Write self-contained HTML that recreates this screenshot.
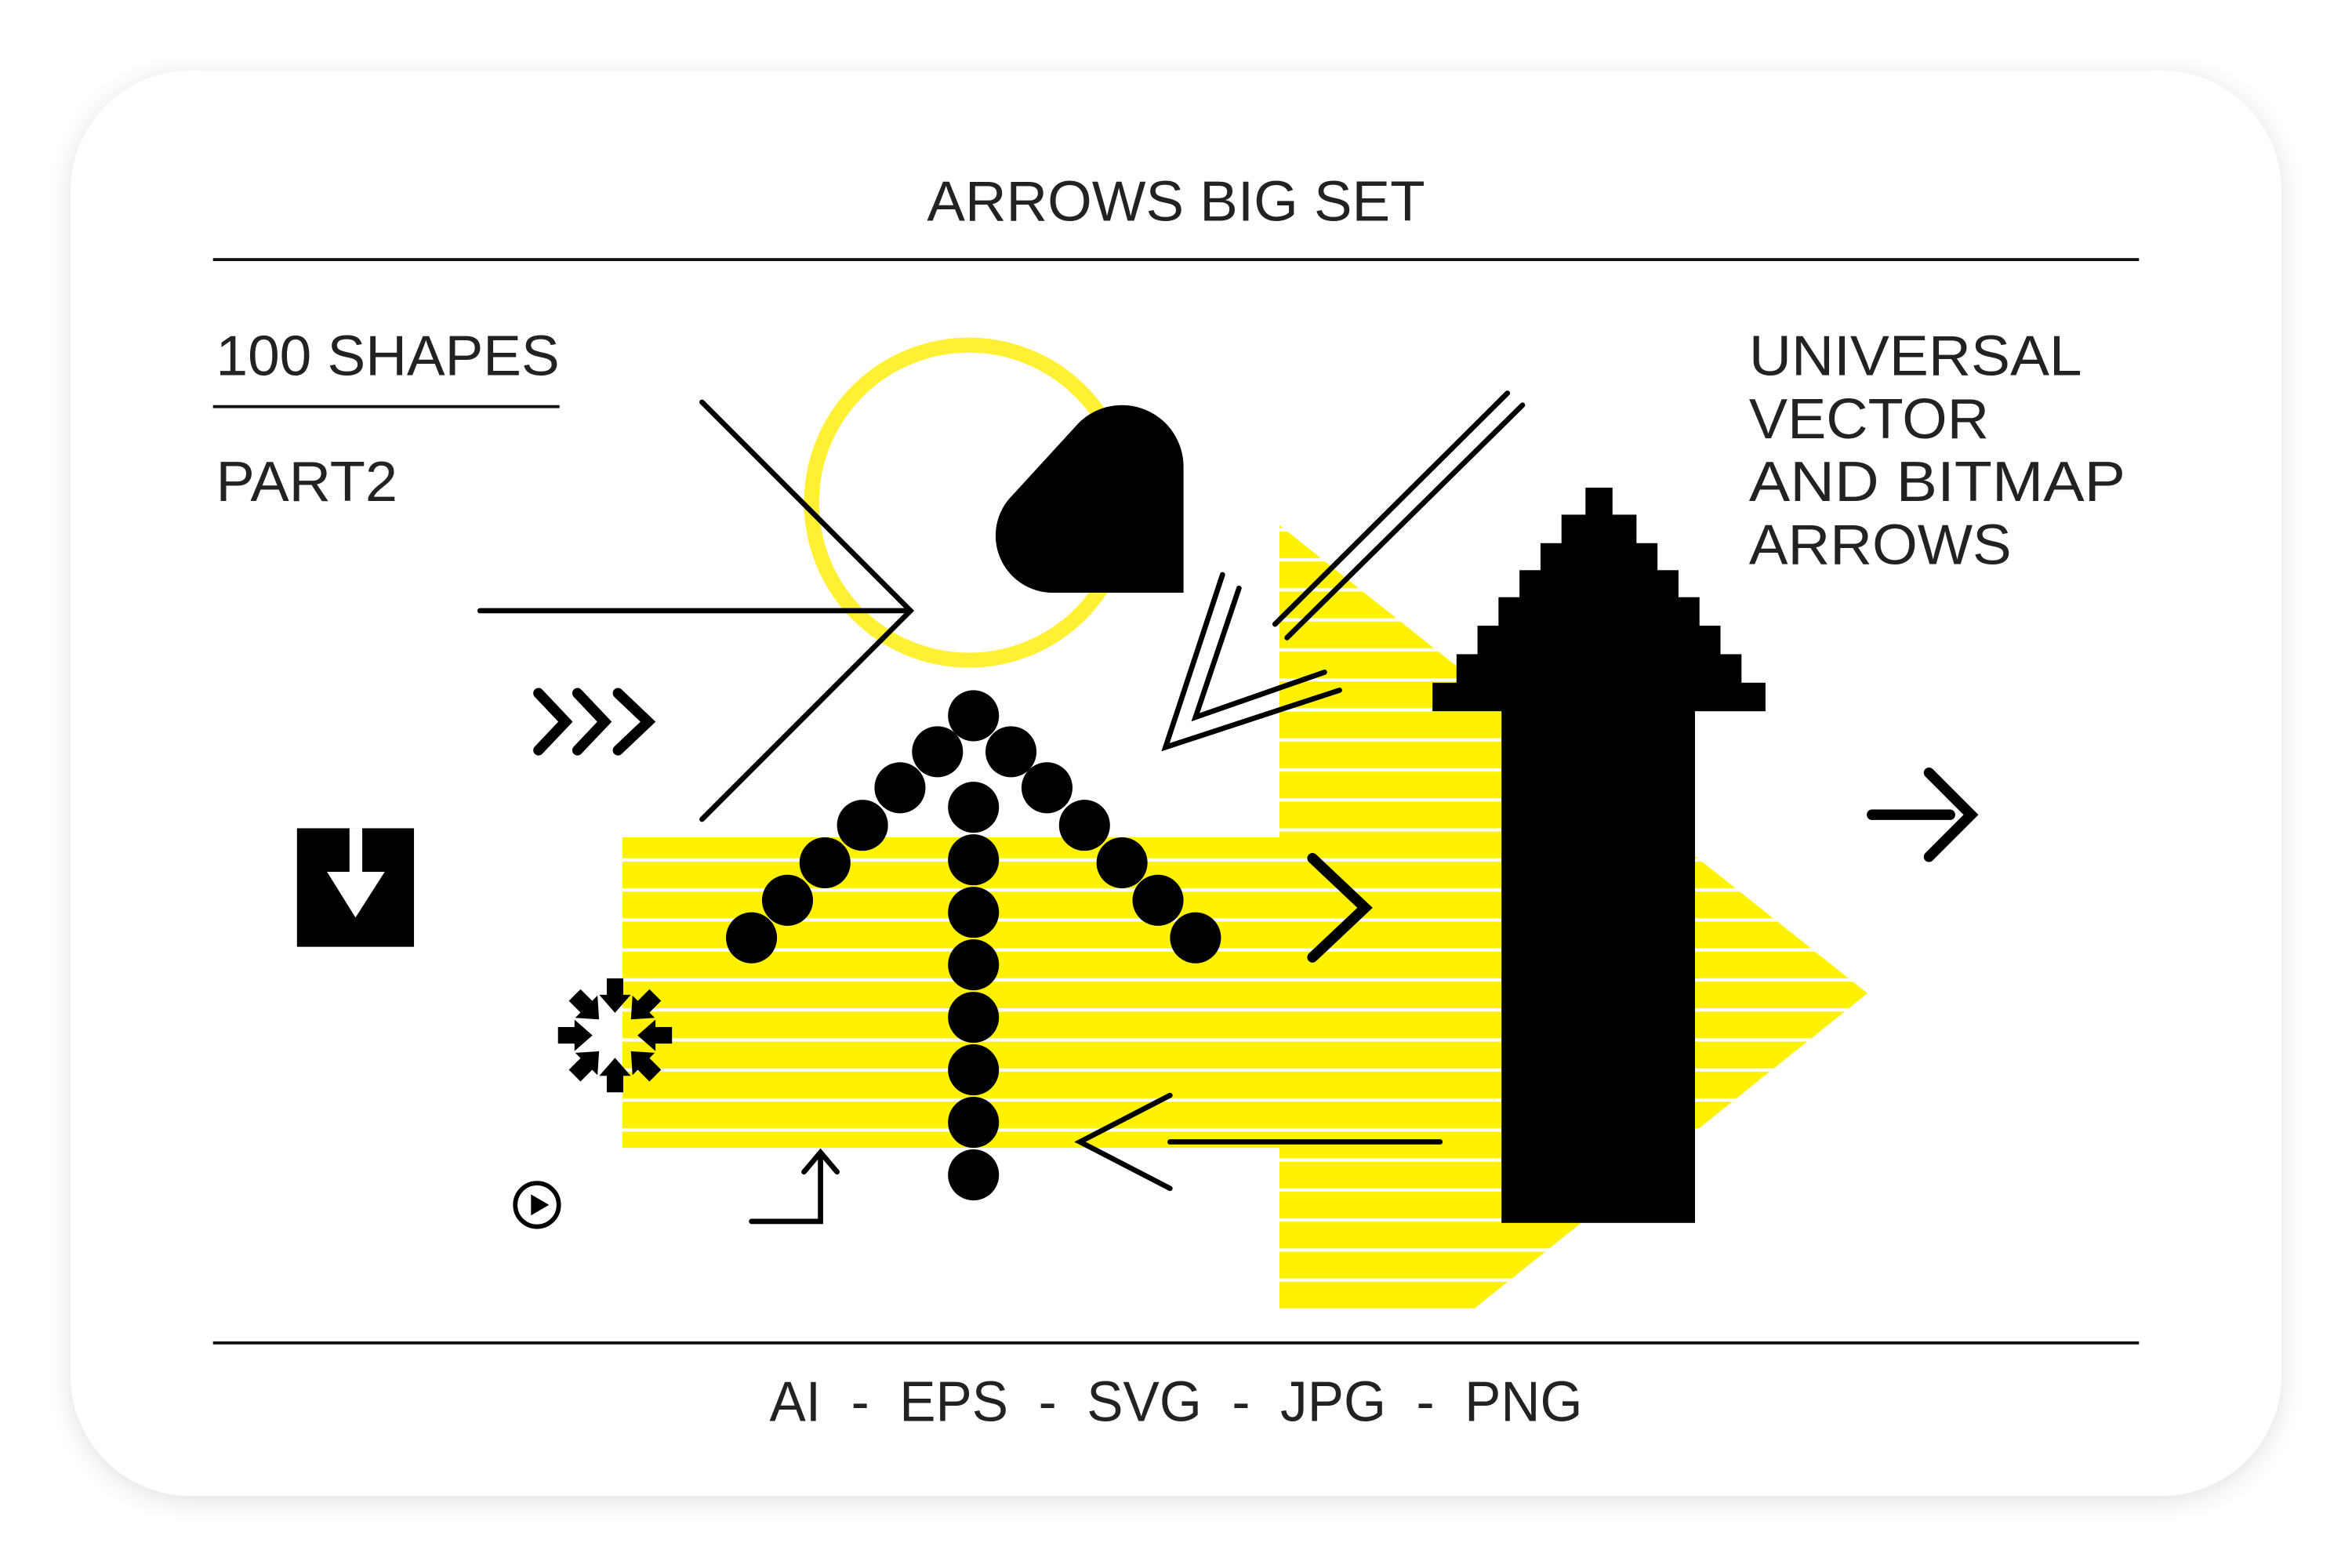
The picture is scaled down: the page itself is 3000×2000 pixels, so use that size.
<!DOCTYPE html>
<html><head><meta charset="utf-8"><style>
html,body{margin:0;padding:0;background:#fff;}
svg{display:block;}
text{font-family:"Liberation Sans",sans-serif;fill:#222;}
</style></head><body>
<svg width="3000" height="2000" viewBox="0 0 1568 1045" preserveAspectRatio="none" xmlns="http://www.w3.org/2000/svg">
<defs>
<filter id="sh" x="-10%" y="-10%" width="120%" height="120%"><feGaussianBlur stdDeviation="8"/></filter>
<pattern id="st" x="0" y="0" width="10" height="20" patternUnits="userSpaceOnUse">
<rect width="10" height="20" fill="#fff200"/><rect y="12" width="10" height="2.2" fill="#fff"/>
</pattern>
</defs>
<rect x="0" y="0" width="1568" height="1045" fill="#fff"/>
<rect x="47" y="50" width="1474" height="950" rx="80" fill="#000" opacity="0.12" filter="url(#sh)"/>
<rect x="47" y="47" width="1474" height="950" rx="80" fill="#fff"/>

<text x="784" y="147" font-size="38" text-anchor="middle" textLength="332" lengthAdjust="spacingAndGlyphs">ARROWS BIG SET</text>
<rect x="142" y="172" width="1284" height="2" fill="#111"/>
<text x="144" y="250" font-size="38" textLength="229" lengthAdjust="spacingAndGlyphs">100 SHAPES</text>
<rect x="142" y="270" width="231" height="2" fill="#111"/>
<text x="144" y="334" font-size="38" textLength="121" lengthAdjust="spacingAndGlyphs">PART2</text>
<text x="1166" y="250" font-size="38" textLength="222" lengthAdjust="spacingAndGlyphs">UNIVERSAL</text>
<text x="1166" y="292" font-size="38" textLength="160" lengthAdjust="spacingAndGlyphs">VECTOR</text>
<text x="1166" y="334" font-size="38" textLength="251" lengthAdjust="spacingAndGlyphs">AND BITMAP</text>
<text x="1166" y="376" font-size="38" textLength="175" lengthAdjust="spacingAndGlyphs">ARROWS</text>
<rect x="142" y="894" width="1284" height="2" fill="#111"/>
<text x="784" y="947" font-size="38" text-anchor="middle" textLength="542" lengthAdjust="spacingAndGlyphs" xml:space="preserve">AI  -  EPS  -  SVG  -  JPG  -  PNG</text>

<rect x="415" y="558" width="715" height="207" fill="url(#st)"/>
<polygon points="853,350 1245,662 983,872 853,872" fill="url(#st)"/>

<circle cx="646" cy="335" r="105" fill="none" stroke="#fff033" stroke-width="10"/>

<path d="M789,395 L702,395 A38,38 0 0 1 675,330 L719,282 A41,41 0 0 1 789,311 Z" fill="#000"/>

<g fill="none" stroke="#000" stroke-width="3.5" stroke-linecap="round" stroke-linejoin="miter">
<polyline points="468,268 607,407 468,546"/>
<line x1="320" y1="407" x2="607" y2="407"/>
<line x1="850" y1="416" x2="1005" y2="262"/>
<line x1="858" y1="425" x2="1015" y2="270"/>
<polyline points="815,383 777,498 893,460"/>
<polyline points="826,392 797,478 883,448"/>
<polyline points="780,730 720,761 780,792"/>
<line x1="780" y1="761" x2="960" y2="761"/>
<polyline points="501,814 547,814 547,769"/>
<polyline points="536,781 547,768 558,781"/>
</g>
<g fill="none" stroke="#000" stroke-width="7" stroke-linecap="round">
<polyline points="359,462 377,481 359,500"/>
<polyline points="385,462 403,481 385,500"/>
<polyline points="412,462 432,481 412,500"/>
<polyline points="875,572 910,605 875,638"/>
<line x1="1248" y1="543" x2="1300" y2="543"/>
<polyline points="1286,515 1314,543 1286,571"/>
</g>

<g fill="#000">
<circle cx="649" cy="477" r="17"/>
<circle cx="625" cy="501" r="17"/><circle cx="600" cy="525" r="17"/><circle cx="575" cy="550" r="17"/><circle cx="550" cy="575" r="17"/><circle cx="525" cy="600" r="17"/><circle cx="501" cy="625" r="17"/>
<circle cx="674" cy="501" r="17"/><circle cx="698" cy="525" r="17"/><circle cx="723" cy="550" r="17"/><circle cx="748" cy="575" r="17"/><circle cx="772" cy="600" r="17"/><circle cx="797" cy="625" r="17"/>
<circle cx="649" cy="538" r="17"/><circle cx="649" cy="573" r="17"/><circle cx="649" cy="608" r="17"/><circle cx="649" cy="643" r="17"/><circle cx="649" cy="678" r="17"/><circle cx="649" cy="713" r="17"/><circle cx="649" cy="748" r="17"/><circle cx="649" cy="783" r="17"/>
</g>

<g fill="#000">
<rect x="1057" y="325" width="18" height="20"/>
<rect x="1041" y="343" width="50" height="21"/>
<rect x="1027" y="362" width="78" height="20"/>
<rect x="1013" y="380" width="106" height="20"/>
<rect x="999" y="398" width="134" height="21"/>
<rect x="985" y="417" width="162" height="21"/>
<rect x="971" y="436" width="190" height="21"/>
<rect x="955" y="455" width="222" height="19"/>
<rect x="1001" y="472" width="129" height="343"/>
</g>

<rect x="198" y="552" width="78" height="79" fill="#000"/>
<rect x="233" y="552" width="8.5" height="30" fill="#fff"/>
<polygon points="218,581 256.5,581 237,611.5" fill="#fff"/>

<g fill="#000" transform="translate(410,690)">
<g transform="rotate(0)"><polygon points="-5.5,-38 5.5,-38 5.5,-27 10.5,-27 0,-15 -10.5,-27 -5.5,-27"/></g>
<g transform="rotate(45)"><polygon points="-5.5,-38 5.5,-38 5.5,-27 10.5,-27 0,-15 -10.5,-27 -5.5,-27"/></g>
<g transform="rotate(90)"><polygon points="-5.5,-38 5.5,-38 5.5,-27 10.5,-27 0,-15 -10.5,-27 -5.5,-27"/></g>
<g transform="rotate(135)"><polygon points="-5.5,-38 5.5,-38 5.5,-27 10.5,-27 0,-15 -10.5,-27 -5.5,-27"/></g>
<g transform="rotate(180)"><polygon points="-5.5,-38 5.5,-38 5.5,-27 10.5,-27 0,-15 -10.5,-27 -5.5,-27"/></g>
<g transform="rotate(225)"><polygon points="-5.5,-38 5.5,-38 5.5,-27 10.5,-27 0,-15 -10.5,-27 -5.5,-27"/></g>
<g transform="rotate(270)"><polygon points="-5.5,-38 5.5,-38 5.5,-27 10.5,-27 0,-15 -10.5,-27 -5.5,-27"/></g>
<g transform="rotate(315)"><polygon points="-5.5,-38 5.5,-38 5.5,-27 10.5,-27 0,-15 -10.5,-27 -5.5,-27"/></g>
</g>

<circle cx="358" cy="803" r="14.5" fill="none" stroke="#000" stroke-width="3"/>
<polygon points="354,796 354,810 366,803" fill="#000"/>
</svg>
</body></html>
